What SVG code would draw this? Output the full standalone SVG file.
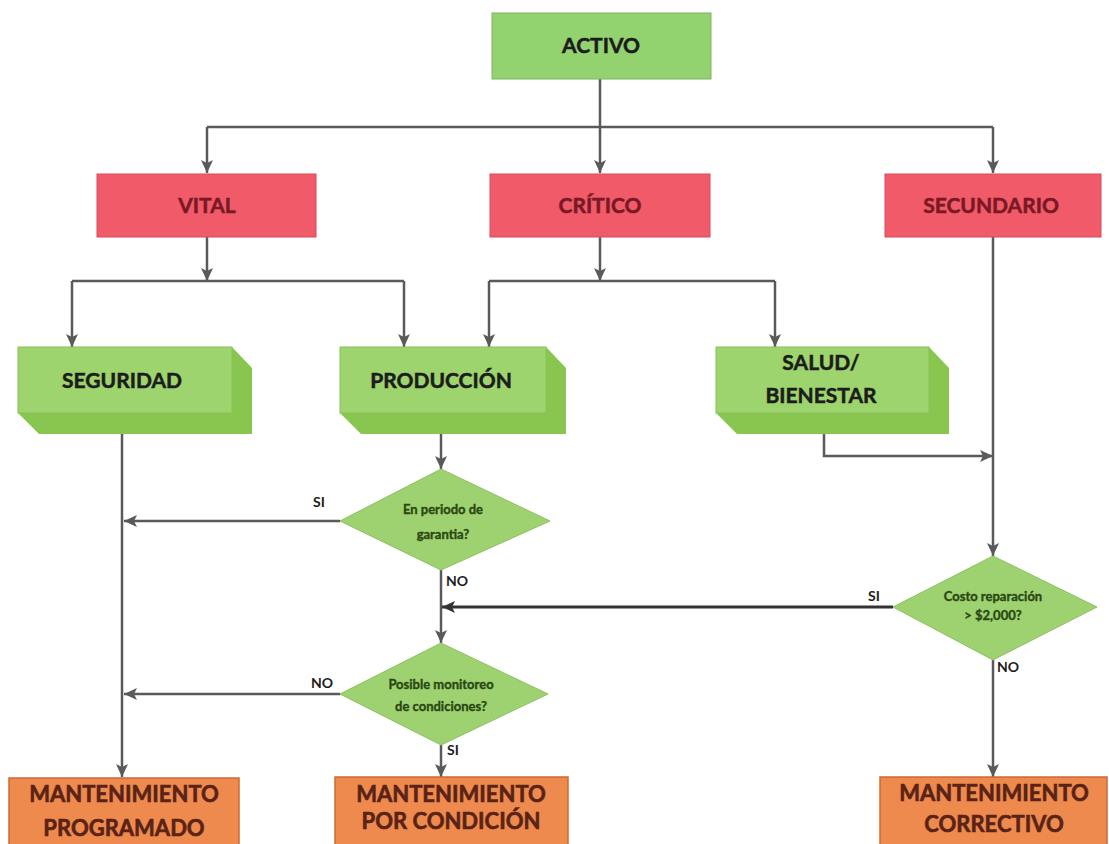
<svg xmlns="http://www.w3.org/2000/svg" width="1109" height="844" viewBox="0 0 1109 844">
  <defs>
    <marker id="arrow" markerUnits="userSpaceOnUse" markerWidth="14" markerHeight="12" refX="13" refY="6" orient="auto">
      <path d="M0,0 L13,6 L0,12 L3,6 z" fill="#5a5a5a"/>
    </marker>
    <marker id="arrowDark" markerUnits="userSpaceOnUse" markerWidth="14" markerHeight="12" refX="13" refY="6" orient="auto">
      <path d="M0,0 L13,6 L0,12 L3,6 z" fill="#333"/>
    </marker>
  </defs>
  <style>
    .lbl { font-family: Lato, "Open Sans", "Liberation Sans", sans-serif; font-weight: bold; }
    .top { fill: #93d36f; stroke: #7fb45c; stroke-width: 1; }
    .red { fill: #f05a69; stroke: #d94b5a; stroke-width: 1; }
    .redtxt { fill: #7a1824; stroke: #7a1824; stroke-width: 0.5; font-size: 21px; }
    .front { fill: #9dd46d; stroke: #88c05a; stroke-width: 1; }
    .side { fill: #88c650; }
    .blk { fill: #1c1c1c; stroke: #1c1c1c; stroke-width: 0.5; font-size: 21px; }
    .dia { fill: #9ed270; stroke: #8cc062; stroke-width: 1; }
    .diatxt { fill: #2a4712; stroke: #2a4712; stroke-width: 0.35; font-size: 13px; }
    .org { fill: #ee8a4e; stroke: #c96b35; stroke-width: 1.5; }
    .orgtxt { fill: #5a2316; stroke: #5a2316; stroke-width: 0.6; font-size: 22px; }
    .tag { fill: #1c1c1c; font-size: 14px; }
    .wire { fill: none; stroke: #5a5a5a; stroke-width: 2.5; }
    .wire-dark { fill: none; stroke: #333; stroke-width: 3; }
  </style>
  <rect width="1109" height="844" fill="#ffffff"/>

  <!-- connectors -->
  <g id="connectors">
    <path class="wire" d="M600,79 V127"/>
    <path class="wire" d="M207,127 H993"/>
    <path class="wire" d="M207,127 V173" marker-end="url(#arrow)"/>
    <path class="wire" d="M600,127 V173" marker-end="url(#arrow)"/>
    <path class="wire" d="M993,127 V173" marker-end="url(#arrow)"/>

    <path class="wire" d="M207,237 V281" marker-end="url(#arrow)"/>
    <path class="wire" d="M72,281 H404"/>
    <path class="wire" d="M72,281 V347" marker-end="url(#arrow)"/>
    <path class="wire" d="M404,281 V347" marker-end="url(#arrow)"/>

    <path class="wire" d="M600,237 V281" marker-end="url(#arrow)"/>
    <path class="wire" d="M489,281 H775"/>
    <path class="wire" d="M489,281 V347" marker-end="url(#arrow)"/>
    <path class="wire" d="M775,281 V347" marker-end="url(#arrow)"/>

    <path class="wire" d="M122,413 V777" marker-end="url(#arrow)"/>
    <path class="wire" d="M441,413 V469" marker-end="url(#arrow)"/>
    <path class="wire" d="M340,521 H124" marker-end="url(#arrow)"/>
    <path class="wire" d="M441,570 V643" marker-end="url(#arrow)"/>
    <path class="wire" d="M340,694 H124" marker-end="url(#arrow)"/>
    <path class="wire" d="M441,745 V777" marker-end="url(#arrow)"/>

    <path class="wire" d="M824,413 V456 H993" marker-end="url(#arrow)"/>
    <path class="wire" d="M993,237 V556" marker-end="url(#arrow)"/>
    <path class="wire-dark" d="M893,607 H442" marker-end="url(#arrowDark)"/>
    <path class="wire" d="M993,660 V777" marker-end="url(#arrow)"/>

    <text class="lbl tag" x="313" y="507">SI</text>
    <text class="lbl tag" x="446" y="586">NO</text>
    <text class="lbl tag" x="311" y="688">NO</text>
    <text class="lbl tag" x="447" y="755">SI</text>
    <text class="lbl tag" x="868" y="601">SI</text>
    <text class="lbl tag" x="997" y="672">NO</text>
  </g>

  <!-- root -->
  <g id="activo">
    <rect class="top" x="492" y="13" width="219" height="66"/>
    <text class="lbl blk" x="601" y="53" text-anchor="middle">ACTIVO</text>
  </g>

  <!-- classes -->
  <g id="vital">
    <rect class="red" x="97" y="174" width="219" height="63"/>
    <text class="lbl redtxt" x="207" y="213" text-anchor="middle">VITAL</text>
  </g>
  <g id="critico">
    <rect class="red" x="490" y="174" width="220" height="63"/>
    <text class="lbl redtxt" x="600" y="213" text-anchor="middle">CRÍTICO</text>
  </g>
  <g id="secundario">
    <rect class="red" x="885" y="174" width="216" height="63"/>
    <text class="lbl redtxt" x="991" y="213" text-anchor="middle">SECUNDARIO</text>
  </g>

  <!-- criteria blocks -->
  <g id="seguridad">
    <path class="side" d="M18,413 L39,434 H252 V368 L232,347 V413 z"/>
    <rect class="front" x="18" y="347" width="214" height="66"/>
    <text class="lbl blk" x="122" y="388" text-anchor="middle">SEGURIDAD</text>
  </g>
  <g id="produccion">
    <path class="side" d="M340,413 L361,434 H566 V368 L546,347 V413 z"/>
    <rect class="front" x="340" y="347" width="206" height="66"/>
    <text class="lbl blk" x="441" y="388" text-anchor="middle">PRODUCCIÓN</text>
  </g>
  <g id="salud">
    <path class="side" d="M716,413 L737,434 H949 V368 L929,347 V413 z"/>
    <rect class="front" x="716" y="347" width="213" height="66"/>
    <text class="lbl blk" x="821" y="370" text-anchor="middle">SALUD/</text>
    <text class="lbl blk" x="821" y="403" text-anchor="middle">BIENESTAR</text>
  </g>

  <!-- decisions -->
  <g id="garantia">
    <polygon class="dia" points="441,469 550,521 441,570 340,521"/>
    <text class="lbl diatxt" x="443" y="514" text-anchor="middle">En periodo de</text>
    <text class="lbl diatxt" x="443" y="539" text-anchor="middle">garantia?</text>
  </g>
  <g id="monitoreo">
    <polygon class="dia" points="441,643 548,694 441,745 340,694"/>
    <text class="lbl diatxt" x="441" y="689" text-anchor="middle">Posible monitoreo</text>
    <text class="lbl diatxt" x="441" y="711" text-anchor="middle">de condiciones?</text>
  </g>
  <g id="costo">
    <polygon class="dia" points="993,556 1097,607 993,660 893,607"/>
    <text class="lbl diatxt" x="993" y="601" text-anchor="middle">Costo reparación</text>
    <text class="lbl diatxt" x="993" y="620" text-anchor="middle">&gt; $2,000?</text>
  </g>

  <!-- outcomes -->
  <g id="programado">
    <rect class="org" x="9" y="778" width="230" height="72"/>
    <text class="lbl orgtxt" x="124" y="802" text-anchor="middle">MANTENIMIENTO</text>
    <text class="lbl orgtxt" x="124" y="836" text-anchor="middle">PROGRAMADO</text>
  </g>
  <g id="condicion">
    <rect class="org" x="335" y="777" width="233" height="73"/>
    <text class="lbl orgtxt" x="451" y="802" text-anchor="middle">MANTENIMIENTO</text>
    <text class="lbl orgtxt" x="451" y="829" text-anchor="middle">POR CONDICIÓN</text>
  </g>
  <g id="correctivo">
    <rect class="org" x="880" y="777" width="227" height="73"/>
    <text class="lbl orgtxt" x="994" y="801" text-anchor="middle">MANTENIMIENTO</text>
    <text class="lbl orgtxt" x="994" y="832" text-anchor="middle">CORRECTIVO</text>
  </g>
</svg>
